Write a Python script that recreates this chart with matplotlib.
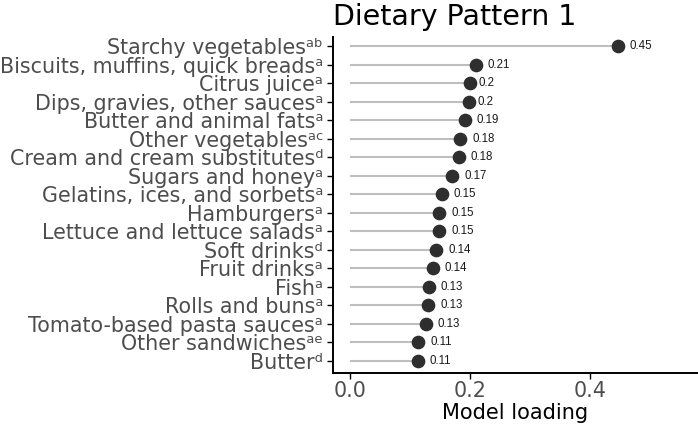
import numpy as np
import matplotlib
matplotlib.use("Agg")
import matplotlib.pyplot as plt

# ---------------------------------------------------------------------------
# Data (top to bottom as shown)
# ---------------------------------------------------------------------------
foods = [
    "Starchy vegetables", "Biscuits, muffins, quick breads", "Citrus juice",
    "Dips, gravies, other sauces", "Butter and animal fats", "Other vegetables",
    "Cream and cream substitutes", "Sugars and honey", "Gelatins, ices, and sorbets",
    "Hamburgers", "Lettuce and lettuce salads", "Soft drinks", "Fruit drinks",
    "Fish", "Rolls and buns", "Tomato-based pasta sauces", "Other sandwiches", "Butter",
]
marks = ["ab", "a", "a", "a", "a", "ac", "d", "a", "a",
         "a", "a", "d", "a", "a", "a", "a", "ae", "d"]
loadings = [0.447, 0.210, 0.200, 0.198, 0.192, 0.184, 0.182, 0.171, 0.153,
            0.149, 0.149, 0.144, 0.138, 0.132, 0.131, 0.127, 0.114, 0.113]

# superscript letters
sup = {"a": "\u1d43", "b": "\u1d47", "c": "\u1d9c", "d": "\u1d48", "e": "\u1d49"}

# ---------------------------------------------------------------------------
# Plot
# ---------------------------------------------------------------------------
fig = plt.figure(figsize=(6.98, 4.28), dpi=100)
ax = fig.add_axes([0.477, 0.1285, 0.523, 0.785])

n = len(foods)
ypos = np.arange(n)[::-1]

ax.hlines(ypos, 0, loadings, color="#bebebe", linewidth=1.5, zorder=1)
ax.scatter(loadings, ypos, s=78, color="#2e2e2e", zorder=2)

for v, y in zip(loadings, ypos):
    lab = f"{round(v, 2):g}"
    off = 6.5 if lab == "0.2" else 8.5
    ax.annotate(lab, (v, y), xytext=(off, 0), textcoords="offset points",
                ha="left", va="center", fontsize=8.3, family="Liberation Sans",
                color="#1a1a1a")

ax.set_yticks(ypos)
ax.set_yticklabels([f + "".join(sup[c] for c in m) for f, m in zip(foods, marks)])
ax.set_xticks([0.0, 0.2, 0.4])
ax.set_xticklabels(["0.0", "0.2", "0.4"])
ax.set_xlim(-0.028, 0.58)
ax.set_ylim(-0.65, n - 1 + 0.5)

ax.tick_params(axis="both", labelsize=14.9, colors="black", labelcolor="#4d4d4d",
               length=4, width=1)
ax.tick_params(axis="y", pad=3)
ax.tick_params(axis="x", pad=2)
for side in ["top", "right"]:
    ax.spines[side].set_visible(False)
for side in ["left", "bottom"]:
    ax.spines[side].set_linewidth(1.4)

ax.set_xlabel("Model loading", fontsize=15, color="black", labelpad=1)
ax.set_title("Dietary Pattern 1", fontsize=20.5, loc="left", pad=9, x=0.0)

fig.savefig("out.png", dpi=100)
